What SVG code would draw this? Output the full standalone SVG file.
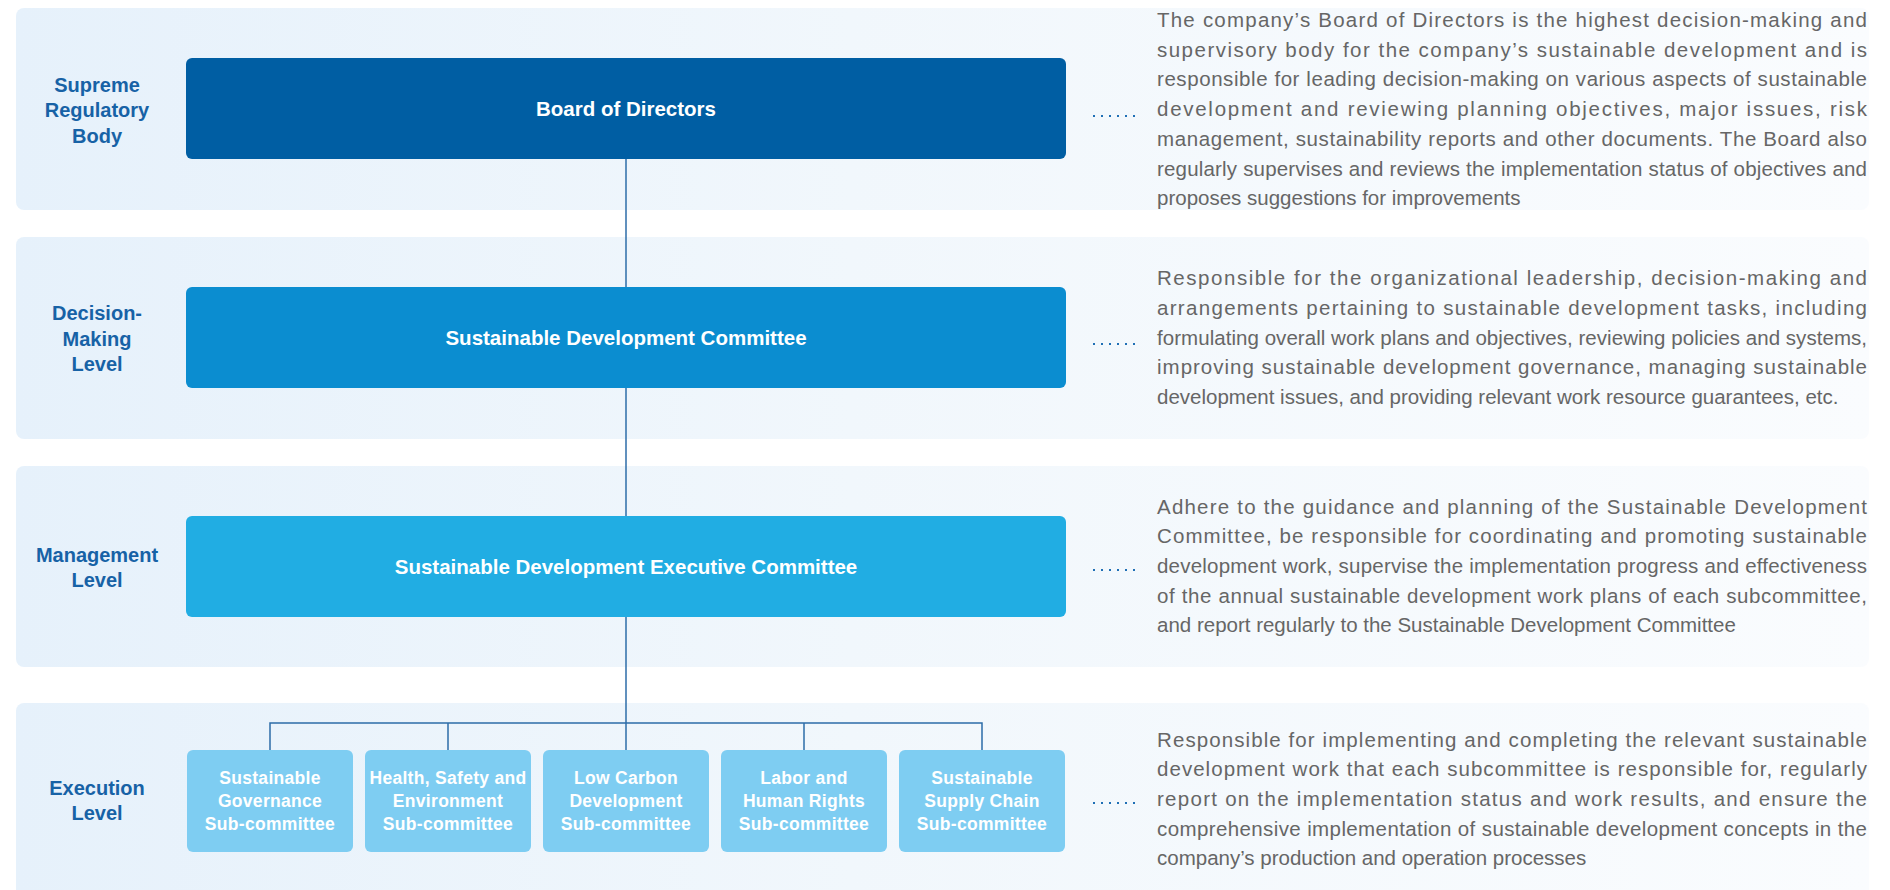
<svg xmlns="http://www.w3.org/2000/svg" width="1890" height="890" viewBox="0 0 1890 890">
<defs>
<linearGradient id="bandGrad" x1="0" y1="0" x2="1" y2="0">
<stop offset="0" stop-color="#e6f1fb"/>
<stop offset="0.45" stop-color="#f1f7fc"/>
<stop offset="1" stop-color="#fafcfe"/>
</linearGradient>
<style>
.band{fill:url(#bandGrad);}
.lvl{font-family:"Liberation Sans",Arial,sans-serif;font-weight:bold;font-size:20px;fill:#1762a6;text-anchor:middle;}
.main{font-family:"Liberation Sans",Arial,sans-serif;font-weight:bold;font-size:20.5px;fill:#ffffff;text-anchor:middle;}
.sub{font-family:"Liberation Sans",Arial,sans-serif;font-weight:bold;font-size:17.5px;fill:#ffffff;text-anchor:middle;letter-spacing:0.3px;}
.desc{font-family:"Liberation Sans",Arial,sans-serif;font-size:20.5px;fill:#666666;}
.conn{stroke:#2c6ca8;stroke-width:1.5;fill:none;}
.dots{stroke:#1f6fb5;stroke-width:2;stroke-dasharray:2 6;fill:none;}
.b1{fill:#005ea3;}
.b2{fill:#0b8dd0;}
.b3{fill:#21ade3;}
.b4{fill:#7ecdf2;}
</style>
</defs>
<rect width="1890" height="890" fill="#ffffff"/>
<g id="bands">
<rect class="band" x="16" y="8" width="1853" height="202" rx="8"/>
<rect class="band" x="16" y="237" width="1853" height="202" rx="8"/>
<rect class="band" x="16" y="466" width="1853" height="201" rx="8"/>
<rect class="band" x="16" y="703" width="1853" height="202" rx="8"/>
</g>
<g id="level-labels">
<text class="lvl" x="97" y="91.5">Supreme</text>
<text class="lvl" x="97" y="117">Regulatory</text>
<text class="lvl" x="97" y="142.5">Body</text>
<text class="lvl" x="97" y="320">Decision-</text>
<text class="lvl" x="97" y="345.5">Making</text>
<text class="lvl" x="97" y="371">Level</text>
<text class="lvl" x="97" y="561.5">Management</text>
<text class="lvl" x="97" y="587">Level</text>
<text class="lvl" x="97" y="794.5">Execution</text>
<text class="lvl" x="97" y="820">Level</text>
</g>
<g id="connectors">
<line class="conn" x1="626" y1="159" x2="626" y2="287"/>
<line class="conn" x1="626" y1="388" x2="626" y2="516"/>
<line class="conn" x1="626" y1="617" x2="626" y2="750"/>
<polyline class="conn" points="270,750 270,723 982,723 982,750"/>
<line class="conn" x1="448" y1="723" x2="448" y2="750"/>
<line class="conn" x1="804" y1="723" x2="804" y2="750"/>
<line class="dots" x1="1093" y1="116" x2="1137" y2="116"/>
<line class="dots" x1="1093" y1="344" x2="1137" y2="344"/>
<line class="dots" x1="1093" y1="570" x2="1137" y2="570"/>
<line class="dots" x1="1093" y1="803" x2="1137" y2="803"/>
</g>
<g id="board-of-directors">
<rect class="b1" x="186" y="58" width="880" height="101" rx="6"/>
<text class="main" x="626" y="115.5">Board of Directors</text>
</g>
<g id="sustainable-development-committee">
<rect class="b2" x="186" y="287" width="880" height="101" rx="6"/>
<text class="main" x="626" y="344.5">Sustainable Development Committee</text>
</g>
<g id="sustainable-development-executive-committee">
<rect class="b3" x="186" y="516" width="880" height="101" rx="6"/>
<text class="main" x="626" y="573.5">Sustainable Development Executive Committee</text>
</g>
<g id="sub-governance">
<rect class="b4" x="187" y="750" width="166" height="102" rx="6"/>
<text class="sub" x="270" y="784">Sustainable</text>
<text class="sub" x="270" y="807">Governance</text>
<text class="sub" x="270" y="830">Sub-committee</text>
</g>
<g id="sub-hse">
<rect class="b4" x="365" y="750" width="166" height="102" rx="6"/>
<text class="sub" x="448" y="784">Health, Safety and</text>
<text class="sub" x="448" y="807">Environment</text>
<text class="sub" x="448" y="830">Sub-committee</text>
</g>
<g id="sub-low-carbon">
<rect class="b4" x="543" y="750" width="166" height="102" rx="6"/>
<text class="sub" x="626" y="784">Low Carbon</text>
<text class="sub" x="626" y="807">Development</text>
<text class="sub" x="626" y="830">Sub-committee</text>
</g>
<g id="sub-labor">
<rect class="b4" x="721" y="750" width="166" height="102" rx="6"/>
<text class="sub" x="804" y="784">Labor and</text>
<text class="sub" x="804" y="807">Human Rights</text>
<text class="sub" x="804" y="830">Sub-committee</text>
</g>
<g id="sub-supply-chain">
<rect class="b4" x="899" y="750" width="166" height="102" rx="6"/>
<text class="sub" x="982" y="784">Sustainable</text>
<text class="sub" x="982" y="807">Supply Chain</text>
<text class="sub" x="982" y="830">Sub-committee</text>
</g>
<g id="desc-board">
<text class="desc" x="1157" y="27" textLength="710" lengthAdjust="spacing">The company’s Board of Directors is the highest decision-making and</text>
<text class="desc" x="1157" y="56.7" textLength="710" lengthAdjust="spacing">supervisory body for the company’s sustainable development and is</text>
<text class="desc" x="1157" y="86.4" textLength="710" lengthAdjust="spacing">responsible for leading decision-making on various aspects of sustainable</text>
<text class="desc" x="1157" y="116.1" textLength="710" lengthAdjust="spacing">development and reviewing planning objectives, major issues, risk</text>
<text class="desc" x="1157" y="145.8" textLength="710" lengthAdjust="spacing">management, sustainability reports and other documents. The Board also</text>
<text class="desc" x="1157" y="175.5" textLength="710" lengthAdjust="spacing">regularly supervises and reviews the implementation status of objectives and</text>
<text class="desc" x="1157" y="205.2">proposes suggestions for improvements</text>
</g>
<g id="desc-sdc">
<text class="desc" x="1157" y="285.1" textLength="710" lengthAdjust="spacing">Responsible for the organizational leadership, decision-making and</text>
<text class="desc" x="1157" y="314.8" textLength="710" lengthAdjust="spacing">arrangements pertaining to sustainable development tasks, including</text>
<text class="desc" x="1157" y="344.5" textLength="710" lengthAdjust="spacing">formulating overall work plans and objectives, reviewing policies and systems,</text>
<text class="desc" x="1157" y="374.2" textLength="710" lengthAdjust="spacing">improving sustainable development governance, managing sustainable</text>
<text class="desc" x="1157" y="403.9">development issues, and providing relevant work resource guarantees, etc.</text>
</g>
<g id="desc-sdec">
<text class="desc" x="1157" y="513.6" textLength="710" lengthAdjust="spacing">Adhere to the guidance and planning of the Sustainable Development</text>
<text class="desc" x="1157" y="543.3" textLength="710" lengthAdjust="spacing">Committee, be responsible for coordinating and promoting sustainable</text>
<text class="desc" x="1157" y="573" textLength="710" lengthAdjust="spacing">development work, supervise the implementation progress and effectiveness</text>
<text class="desc" x="1157" y="602.7" textLength="710" lengthAdjust="spacing">of the annual sustainable development work plans of each subcommittee,</text>
<text class="desc" x="1157" y="632.4">and report regularly to the Sustainable Development Committee</text>
</g>
<g id="desc-execution">
<text class="desc" x="1157" y="746.6" textLength="710" lengthAdjust="spacing">Responsible for implementing and completing the relevant sustainable</text>
<text class="desc" x="1157" y="776.3" textLength="710" lengthAdjust="spacing">development work that each subcommittee is responsible for, regularly</text>
<text class="desc" x="1157" y="806" textLength="710" lengthAdjust="spacing">report on the implementation status and work results, and ensure the</text>
<text class="desc" x="1157" y="835.7" textLength="710" lengthAdjust="spacing">comprehensive implementation of sustainable development concepts in the</text>
<text class="desc" x="1157" y="865.4">company’s production and operation processes</text>
</g>
</svg>
